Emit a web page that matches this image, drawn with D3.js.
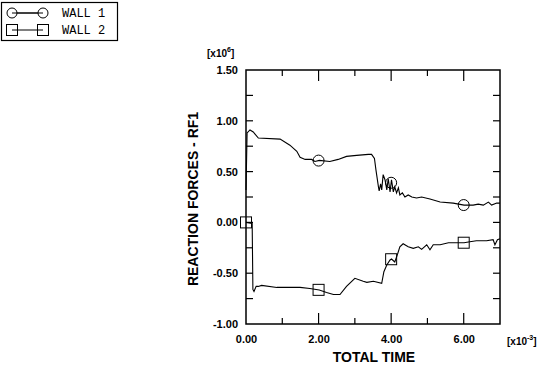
<!DOCTYPE html>
<html><head><meta charset="utf-8">
<script src="https://cdn.jsdelivr.net/npm/d3@7"></script>
<style>body{margin:0;background:#fff}svg{display:block}</style>
</head><body>
<svg id="c" width="539" height="366"></svg>
<script>
const xTicks = [0, 2, 4, 6];
const xTickLabels = ["0.00", "2.00", "4.00", "6.00"];
const yTicks = [-1, -0.5, 0, 0.5, 1, 1.5];
const yTickLabels = ["-1.00", "-0.50", "0.00", "0.50", "1.00", "1.50"];
const seriesNames = ["WALL 1", "WALL 2"];
const wall1T = [0,0.03,0.11,0.2,0.34,0.94,1.21,1.40,1.49,1.63,1.81,1.90,2.02,2.31,2.54,2.77,3.05,3.37,3.46,3.54,3.58,3.65,3.67,3.71,3.74,3.78,3.83,3.88,3.92,3.97,4.01,4.06,4.10,4.15,4.20,4.24,4.31,4.38,4.47,4.57,4.70,4.84,5.07,5.35,5.71,6.01,6.26,6.40,6.54,6.68,6.77,6.91,7.0];
const wall1V = [0.32,0.88,0.91,0.89,0.83,0.82,0.76,0.70,0.64,0.62,0.62,0.60,0.61,0.60,0.62,0.65,0.66,0.67,0.67,0.63,0.52,0.35,0.31,0.38,0.32,0.47,0.42,0.32,0.43,0.30,0.42,0.30,0.35,0.29,0.34,0.27,0.29,0.25,0.27,0.25,0.24,0.25,0.23,0.20,0.19,0.17,0.17,0.18,0.17,0.20,0.17,0.19,0.19];
const wall2T = [0,0.17,0.19,0.22,0.28,0.34,0.43,0.85,1.49,1.76,2.02,2.22,2.41,2.59,2.77,3.00,3.23,3.33,3.51,3.74,3.80,3.88,3.97,4.01,4.10,4.17,4.24,4.33,4.47,4.61,4.75,4.84,4.98,5.07,5.16,5.35,5.58,5.81,6.01,6.17,6.35,6.63,6.81,6.86,6.93,7.0];
const wall2V = [0,-0.01,-0.66,-0.68,-0.63,-0.63,-0.62,-0.64,-0.64,-0.65,-0.665,-0.69,-0.71,-0.71,-0.63,-0.55,-0.58,-0.59,-0.58,-0.60,-0.485,-0.42,-0.37,-0.36,-0.39,-0.32,-0.24,-0.21,-0.24,-0.255,-0.24,-0.265,-0.22,-0.27,-0.22,-0.22,-0.20,-0.20,-0.20,-0.19,-0.18,-0.18,-0.17,-0.22,-0.17,-0.16];
const markerT = [0, 2, 4, 6];

const svg = d3.select("#c");
const L = 246, R = 500, T = 70, B = 324;
const x = d3.scaleLinear().domain([0, 7]).range([L, R]);
const y = d3.scaleLinear().domain([-1, 1.5]).range([B, T]);
const font = "'Liberation Sans', Arial, sans-serif";

// frame
svg.append("rect").attr("x", L).attr("y", T).attr("width", R - L).attr("height", B - T)
  .attr("fill", "none").attr("stroke", "#000").attr("stroke-width", 1.5);

// x ticks (inward, bottom and top)
const xAll = d3.range(1, 7);
xAll.forEach(t => {
  const len = t % 2 === 0 ? 11 : 6;
  svg.append("line").attr("x1", x(t)).attr("x2", x(t)).attr("y1", B).attr("y2", B - len).attr("stroke", "#000").attr("stroke-width", 1.2);
  svg.append("line").attr("x1", x(t)).attr("x2", x(t)).attr("y1", T).attr("y2", T + len).attr("stroke", "#000").attr("stroke-width", 1.2);
});
// y ticks every 0.25
d3.range(-0.75, 1.5, 0.25).forEach(v => {
  svg.append("line").attr("x1", L).attr("x2", L + 7).attr("y1", y(v)).attr("y2", y(v)).attr("stroke", "#000").attr("stroke-width", 1.2);
  svg.append("line").attr("x1", R).attr("x2", R - 7).attr("y1", y(v)).attr("y2", y(v)).attr("stroke", "#000").attr("stroke-width", 1.2);
});

// tick labels
const yAxis = d3.axisLeft(y).tickValues(yTicks).tickFormat((d, i) => yTickLabels[i]).tickSize(0).tickPadding(8);
const gy = svg.append("g").attr("transform", `translate(${L},0)`).call(yAxis);
gy.select(".domain").remove();
gy.selectAll("text").attr("font-family", font).attr("font-weight", "bold").attr("font-size", 11).attr("fill", "#000");

const xAxis = d3.axisBottom(x).tickValues(xTicks).tickFormat((d, i) => xTickLabels[i]).tickSize(0).tickPadding(11);
const gx = svg.append("g").attr("transform", `translate(0,${B})`).call(xAxis);
gx.select(".domain").remove();
gx.selectAll("text").attr("font-family", font).attr("font-weight", "bold").attr("font-size", 11).attr("fill", "#000");

// exponents
function expo(px, py, e) {
  const t = svg.append("text").attr("x", px).attr("y", py).attr("font-family", font).attr("font-weight", "bold").attr("font-size", 10).attr("fill", "#000");
  t.append("tspan").text("[x10");
  t.append("tspan").attr("dy", -5).attr("font-size", 7).text(e);
  t.append("tspan").attr("dy", 5).text("]");
}
expo(207, 57, "6");
expo(507, 345, "-3");

// titles
svg.append("text").attr("x", (L + R) / 2 + 1).attr("y", 362).attr("text-anchor", "middle")
  .attr("font-family", font).attr("font-weight", "bold").attr("font-size", 14).text("TOTAL TIME");
svg.append("text").attr("transform", `translate(198,${(T + B) / 2 + 2}) rotate(-90)`).attr("text-anchor", "middle")
  .attr("font-family", font).attr("font-weight", "bold").attr("font-size", 14).text("REACTION FORCES - RF1");

// lines
const line = d3.line().x(d => x(d[0])).y(d => y(d[1]));
const w1 = wall1T.map((t, i) => [t, wall1V[i]]);
const w2 = wall2T.map((t, i) => [t, wall2V[i]]);
svg.append("path").datum(w1).attr("d", line).attr("fill", "none").attr("stroke", "#000").attr("stroke-width", 1.1);
svg.append("path").datum(w2).attr("d", line).attr("fill", "none").attr("stroke", "#000").attr("stroke-width", 1.1);

function interp(ts, vs, t) {
  for (let i = 1; i < ts.length; i++) if (t <= ts[i]) {
    const f = (t - ts[i - 1]) / (ts[i] - ts[i - 1]); return vs[i - 1] + f * (vs[i] - vs[i - 1]);
  }
  return vs[vs.length - 1];
}
markerT.forEach(t => {
  if (t > 0) svg.append("circle").attr("cx", x(t)).attr("cy", y(interp(wall1T, wall1V, t)))
    .attr("r", 5.5).attr("fill", "none").attr("stroke", "#000").attr("stroke-width", 1);
  const v2 = t === 0 ? 0 : interp(wall2T, wall2V, t);
  svg.append("rect").attr("x", x(t) - 5.5).attr("y", y(v2) - 5.5).attr("width", 11).attr("height", 11)
    .attr("fill", "none").attr("stroke", "#000").attr("stroke-width", 1);
});

// legend
svg.append("rect").attr("x", 1.5).attr("y", 2.5).attr("width", 116).attr("height", 38)
  .attr("fill", "none").attr("stroke", "#000").attr("stroke-width", 1.2);
const lg = svg.append("g");
[13, 30].forEach((ly, i) => {
  lg.append("line").attr("x1", 12).attr("x2", 43).attr("y1", ly).attr("y2", ly).attr("stroke", "#000");
  if (i === 0) {
    lg.append("circle").attr("cx", 12).attr("cy", ly).attr("r", 5).attr("fill", "#fff").attr("stroke", "#000");
    lg.append("circle").attr("cx", 43).attr("cy", ly).attr("r", 5).attr("fill", "#fff").attr("stroke", "#000");
    lg.append("line").attr("x1", 12).attr("x2", 43).attr("y1", ly).attr("y2", ly).attr("stroke", "#000");
  } else {
    lg.append("rect").attr("x", 6.5).attr("y", ly - 5.5).attr("width", 11).attr("height", 11).attr("fill", "none").attr("stroke", "#000");
    lg.append("rect").attr("x", 37.5).attr("y", ly - 5.5).attr("width", 11).attr("height", 11).attr("fill", "none").attr("stroke", "#000");
  }
  lg.append("text").attr("x", 62).attr("y", ly + 4).attr("font-family", "'Liberation Mono', 'Courier New', monospace")
    .attr("font-size", 12).attr("fill", "#000").text(seriesNames[i]);
});
</script>
</body></html>
